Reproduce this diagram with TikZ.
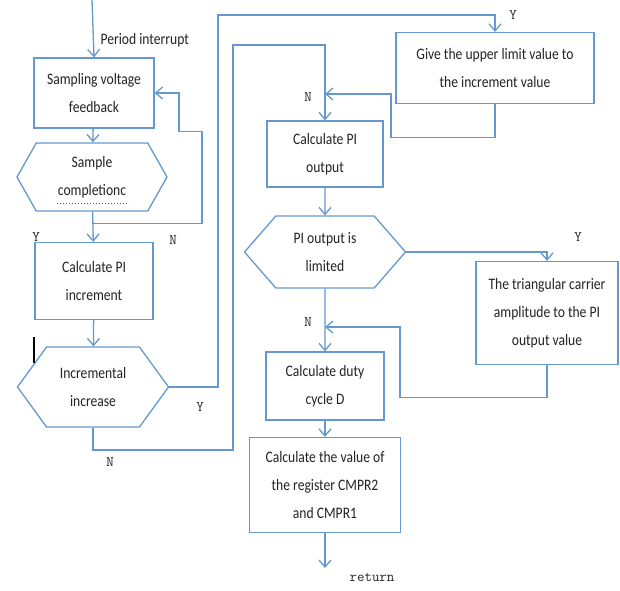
\documentclass[tikz,border=0pt]{standalone}
\usepackage{fontspec}
\setmainfont[FakeStretch=0.85]{Carlito}
\usetikzlibrary{shapes.symbols,arrows.meta}

\definecolor{lineblue}{RGB}{100,152,206}
\definecolor{textgray}{RGB}{35,35,35}
\definecolor{spellred}{RGB}{215,40,40}

\begin{document}
\begin{tikzpicture}[x=1pt,y=-1pt,
    box/.style={draw=lineblue, line width=1.3pt, align=center, text=textgray,
      font=\fontsize{16}{28}\selectfont, inner sep=0pt},
    hexa/.style={box, shape=signal, signal to=west and east},
    line/.style={draw=lineblue, line width=1.3pt},
    flow/.style={line, -{Straight Barb[length=7pt,width=12pt]}},
    yn/.style={font=\ttfamily\fontsize{14.5}{14.5}\selectfont, text=textgray}]
  \useasboundingbox (0,0) rectangle (620,590);

  % left column
  \coordinate (start) at (92,0);
  \node[box, minimum width=120pt, minimum height=70pt] (samp) at (94,93) {Sampling voltage\\feedback};
  \node[hexa, signal pointer angle=121, minimum width=150pt, minimum height=68pt] (chk) at (92,177) {Sample\\completionc};
  \node[box, minimum width=118pt, minimum height=77pt] (incr) at (94,281) {Calculate PI\\increment};
  \node[hexa, signal pointer angle=108, minimum width=151pt, minimum height=80pt] (inc) at (93,387) {Incremental\\increase};

  % middle column
  \node[box, minimum width=116pt, minimum height=66pt] (piout) at (325,154) {Calculate PI\\output};
  \node[hexa, signal pointer angle=98, minimum width=161pt, minimum height=72pt] (lim) at (325,252) {PI output is\\limited};
  \node[box, minimum width=118pt, minimum height=68pt] (duty) at (325,386) {Calculate duty\\cycle D};
  \node[box, minimum width=151pt, minimum height=95pt] (cmpr) at (325,485) {Calculate the value of\\the register CMPR2\\and CMPR1};
  \coordinate (stop) at (325,568);

  % right column
  \node[box, minimum width=198pt, minimum height=71pt] (upper) at (495,68) {Give the upper limit value to\\the increment value};
  \node[box, minimum width=142pt, minimum height=103pt] (tri) at (547,313) {The triangular carrier\\amplitude to the PI\\output value};

  % texts
  \node[anchor=west, text=textgray, font=\fontsize{16}{16}\selectfont] (irq) at (97,40) {Period interrupt};
  \node[yn] (y1) at (36,237) {Y};
  \node[yn] (n1) at (173,240) {N};
  \node[yn] (y2) at (200,407) {Y};
  \node[yn] (n2) at (110,462) {N};
  \node[yn] (n3) at (308,97) {N};
  \node[yn] (y3) at (513,15) {Y};
  \node[yn] (y4) at (578,237) {Y};
  \node[yn] (n4) at (308,322) {N};
  \node[yn] (ret) at (372,578) {return};

  % straight flow
  \draw[flow] (start) -- (samp.north);
  \draw[flow] (samp) -- (chk);
  \draw[flow] (chk) -- (incr);
  \draw[flow] (incr) -- (inc);
  \draw[flow] (piout) -- (lim);
  \draw[flow] (lim) -- (duty);
  \draw[flow] (duty) -- (cmpr);
  \draw[flow] (cmpr) -- (stop);

  % loop back while sampling
  \draw[flow] (chk.south) ++(0,12) -- ++(110,0) -- ++(0,-92) -- ++(-23,0) |- (samp.east);

  % branches of the increment test
  \coordinate (ytop) at (218,15);
  \draw[flow] (inc.east) -| (ytop) -| (upper.north);
  \coordinate (nbot) at (233,450);
  \coordinate (ntop) at (233,45);
  \draw[flow] (inc.south) |- (nbot) -- (ntop) -| (piout.north);

  % limited increment joins again
  \coordinate (join1) at (325,94);
  \draw[flow] (upper.south) -- ++(0,33) -| (391,94) -- (join1);

  % limited output
  \draw[flow] (lim.east) -| (tri.north);
  \coordinate (join2) at (325,327);
  \draw[flow] (tri.south) -- ++(0,32) -| (400,327) -- (join2);

  % marks
  \draw[line width=2.2pt, black] (34,337) -- (34,363);
  \draw[spellred, dotted, line width=1pt] (57,203) -- (129,203);
\end{tikzpicture}
\end{document}
